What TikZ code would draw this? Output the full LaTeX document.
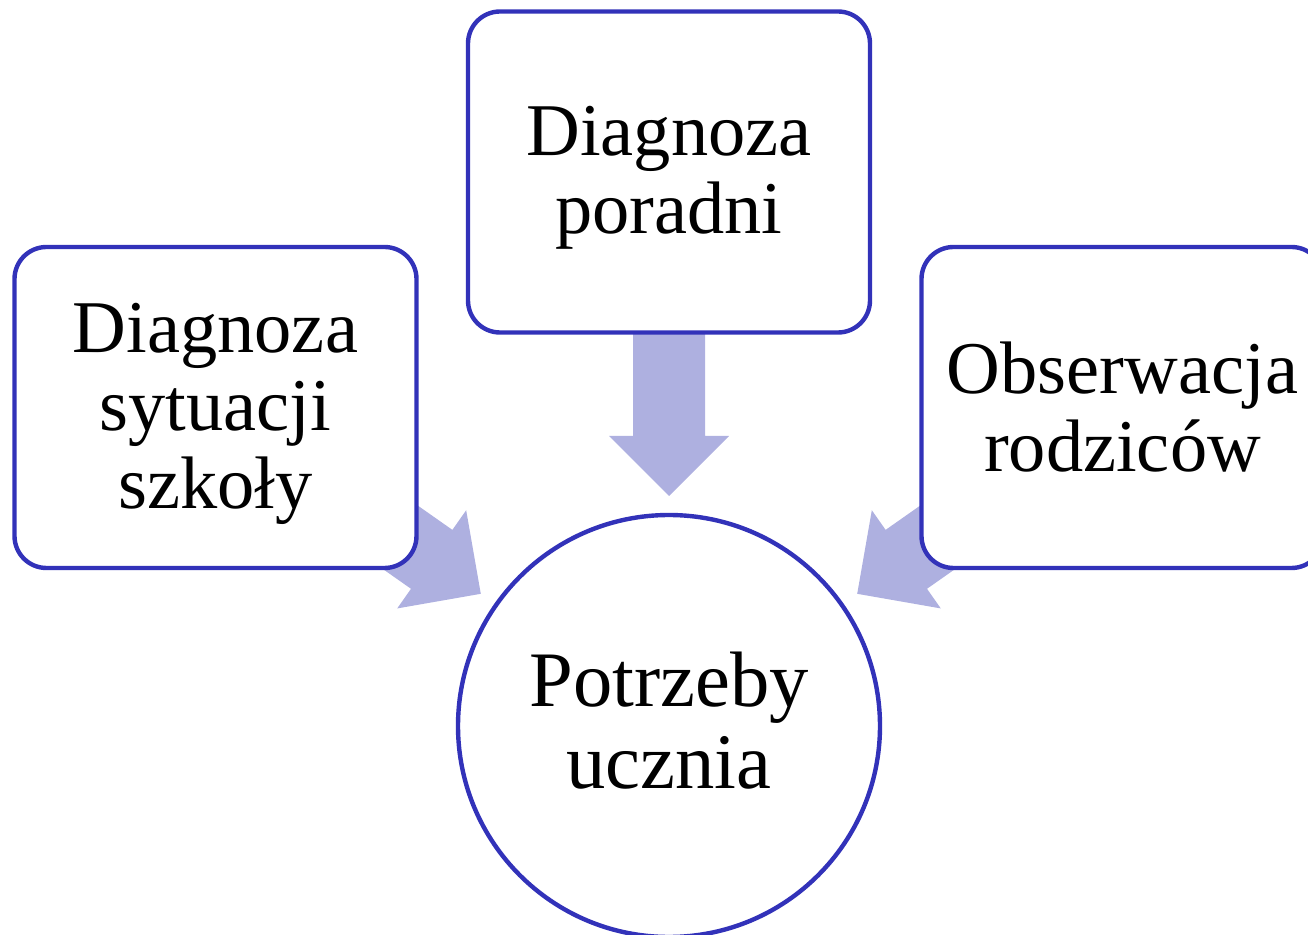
\documentclass[tikz,border=0pt]{standalone}
\usepackage{fontspec}
\setmainfont{Liberation Serif}
\usetikzlibrary{calc,backgrounds}
\definecolor{boxline}{RGB}{50,50,185}
\definecolor{arrowfill}{RGB}{174,176,224}
\newcommand{\blockarrow}[2]{%
  \coordinate (ba-h) at ($(#2)!30pt!(#1)$);
  \fill[arrowfill] ($(#1)!18pt!90:(#2)$) -- ($(ba-h)!18pt!90:(#2)$)
    -- ($(ba-h)!30pt!90:(#2)$) -- (#2) -- ($(ba-h)!30pt!-90:(#2)$)
    -- ($(ba-h)!18pt!-90:(#2)$) -- ($(#1)!18pt!-90:(#2)$) -- cycle;}
\tikzset{
  box/.style={draw=boxline, line width=2.2pt, fill=white, rounded corners=16pt,
    minimum width=201pt, minimum height=160.5pt, inner sep=0pt},
  circ/.style={draw=boxline, line width=2.2pt, fill=white, circle,
    minimum size=211pt, inner sep=0pt},
  boxtext/.style={align=center, inner sep=0pt,
    font=\fontsize{37.2pt}{39pt}\selectfont},
  circtext/.style={align=center, inner sep=0pt,
    font=\fontsize{39.3pt}{41pt}\selectfont}
}
\begin{document}
\begin{tikzpicture}[x=0.5pt,y=-0.5pt]
\useasboundingbox (0,0) rectangle (1308,935);
\clip (0,0) rectangle (1308,935);
\node[box] (T) at (669,172) {};
\node[box] (L) at (215.5,407.5) {};
\node[box] (R) at (1122.5,407.5) {};
\node[circ] (C) at (669,726) {};
\node[boxtext, yshift=-2.75pt] (tTx) at (T.center) {Diagnoza\\poradni};
\node[boxtext, yshift=-3.25pt] (tLx) at (L.center) {Diagnoza\\sytuacji\\szkoły};
\node[boxtext] (tRx) at (R.center) {Obserwacja\\rodziców};
\node[circtext, yshift=2.5pt] (tCx) at (C.center) {Potrzeby\\ucznia};
\coordinate (tT) at ($(C.center)!115pt!(T.center)$);
\coordinate (tL) at ($(C.center)!115pt!(L.center)$);
\coordinate (tR) at ($(C.center)!115pt!(R.center)$);
\begin{scope}[on background layer]
  \blockarrow{T.center}{tT}
  \blockarrow{L.center}{tL}
  \blockarrow{R.center}{tR}
\end{scope}
\end{tikzpicture}
\end{document}
